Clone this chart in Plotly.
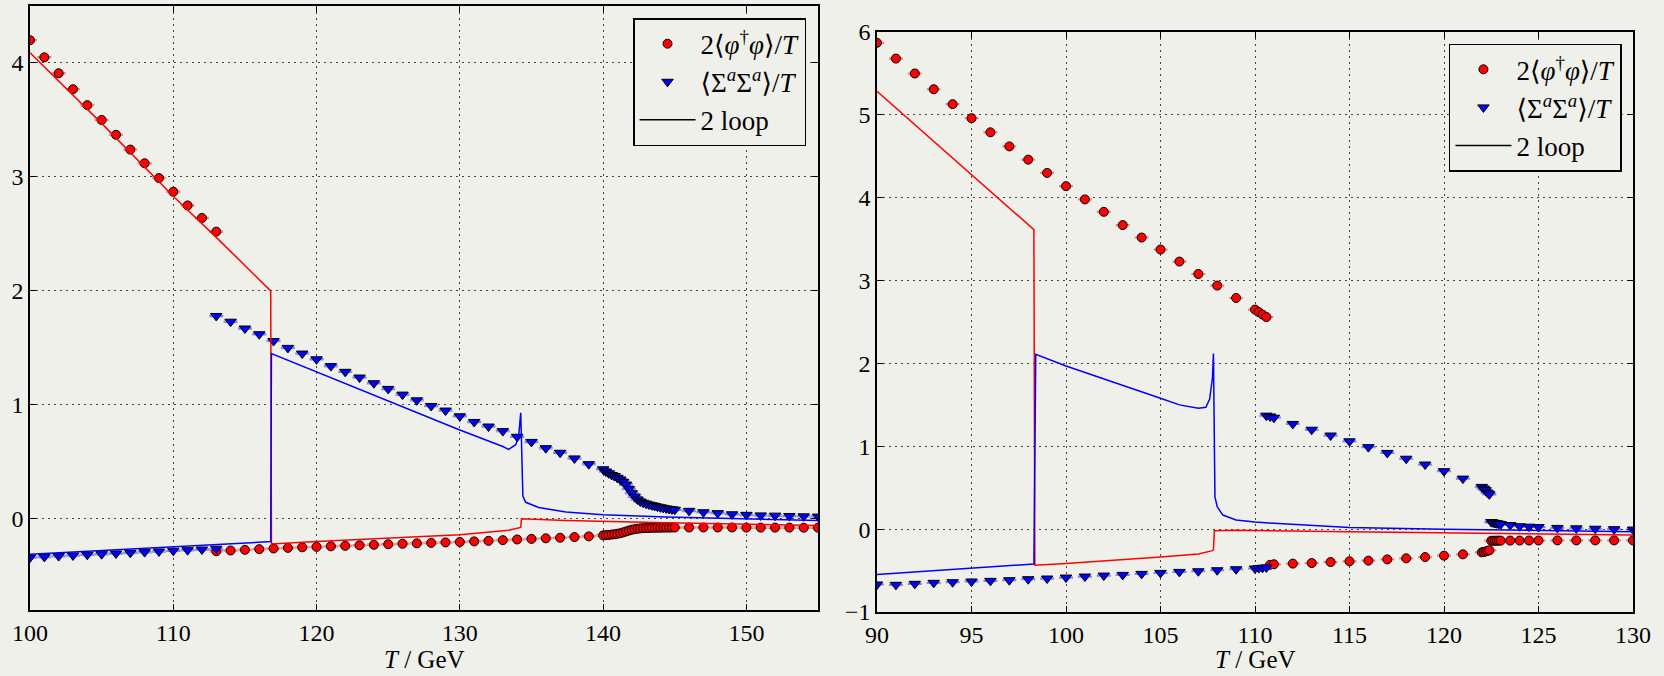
import plotly.graph_objects as go

# ---------------- Left panel data ----------------
L_phi_T = [100, 101, 102, 103, 104, 105, 106, 107, 108, 109, 110, 111, 112, 113,
           113, 114, 115, 116, 117, 118, 119, 120, 121, 122, 123, 124, 125, 126, 127, 128,
           129, 130, 131, 132, 133, 134, 135, 136, 137, 138, 139,
           140.0, 140.2, 140.4, 140.6, 140.8, 141.0, 141.2, 141.4, 141.6, 141.8, 142.0, 142.2, 142.4,
           142.6, 142.8, 143.0, 143.2, 143.4, 143.6, 143.8, 144.0, 144.2, 144.4, 144.6, 144.8, 145.0,
           146, 147, 148, 149, 150, 151, 152, 153, 154, 155]
L_phi = [4.20, 4.05, 3.91, 3.77, 3.63, 3.50, 3.37, 3.24, 3.12, 2.99, 2.87, 2.75, 2.64, 2.52,
         -0.284, -0.278, -0.272, -0.266, -0.260, -0.255, -0.250, -0.246, -0.241, -0.237, -0.232, -0.228,
         -0.223, -0.219, -0.215, -0.211, -0.207, -0.203, -0.198, -0.193, -0.187, -0.181, -0.176, -0.171,
         -0.166, -0.160, -0.154,
         -0.145, -0.143, -0.141, -0.138, -0.135, -0.131, -0.126, -0.119, -0.111, -0.103, -0.096, -0.091,
         -0.087, -0.084, -0.082, -0.081, -0.080, -0.079, -0.079, -0.078, -0.078, -0.077, -0.077, -0.077,
         -0.076, -0.076,
         -0.076, -0.076, -0.076, -0.076, -0.077, -0.077, -0.077, -0.077, -0.078, -0.078]

L_sig_T = [100, 101, 102, 103, 104, 105, 106, 107, 108, 109, 110, 111, 112, 113,
           113, 114, 115, 116, 117, 118, 119, 120, 121, 122, 123, 124, 125, 126, 127, 128,
           129, 130, 131, 132, 133, 134, 135, 136, 137, 138, 139,
           140.0, 140.2, 140.4, 140.6, 140.8, 141.0, 141.2, 141.4, 141.6, 141.8, 142.0, 142.2, 142.4,
           142.6, 142.8, 143.0, 143.2, 143.4, 143.6, 143.8, 144.0, 144.2, 144.4, 144.6, 144.8, 145.0,
           146, 147, 148, 149, 150, 151, 152, 153, 154, 155]
L_sig = [-0.340, -0.334, -0.327, -0.321, -0.315, -0.310, -0.304, -0.298, -0.292, -0.286, -0.280, -0.275,
         -0.269, -0.262,
         1.78, 1.73, 1.67, 1.62, 1.56, 1.50, 1.45, 1.40, 1.34, 1.29, 1.24, 1.19, 1.14, 1.09, 1.04, 0.99,
         0.95, 0.90, 0.85, 0.81, 0.77, 0.72, 0.675, 0.62, 0.58, 0.53, 0.48,
         0.435, 0.415, 0.400, 0.385, 0.375, 0.360, 0.345, 0.325, 0.300, 0.262, 0.225, 0.195, 0.170,
         0.152, 0.141, 0.133, 0.125, 0.119, 0.113, 0.107, 0.101, 0.096, 0.091, 0.087, 0.083, 0.080,
         0.070, 0.058, 0.050, 0.040, 0.035, 0.030, 0.028, 0.025, 0.022, 0.020]

# 2-loop curves (left)
L_loop_phi_T = [100, 105, 110, 113, 116.8, 116.85, 120, 125.8, 130, 133.4, 134.1, 134.25, 134.3,
                137.4, 144.4, 155]
L_loop_phi = [4.09, 3.47, 2.83, 2.47, 2.00, -0.22, -0.20, -0.165, -0.139, -0.10, -0.08, -0.075, 0.0,
              -0.015, -0.035, -0.058]
L_loop_sig_T = [100, 116.8, 116.85, 120, 125, 130, 133.0, 133.4, 133.9, 134.1, 134.25, 134.32, 134.4,
                134.6, 135.5, 137.4, 140, 144.4, 155]
L_loop_sig = [-0.31, -0.20, 1.45, 1.29, 1.03, 0.78, 0.635, 0.61, 0.65, 0.72, 0.93, 0.46, 0.20,
              0.145, 0.10, 0.06, 0.035, 0.015, -0.015]

# ---------------- Right panel data ----------------
R_phi_T = [90, 91, 92, 93, 94, 95, 96, 97, 98, 99, 100, 101, 102, 103, 104, 105, 106, 107, 108, 109,
           110.0, 110.2, 110.4, 110.6,
           110.8, 111, 112, 113, 114, 115, 116, 117, 118, 119, 120, 121,
           122.0, 122.1, 122.2, 122.3, 122.4,
           122.5, 122.6, 122.7, 122.8, 122.9, 123.0, 123.5, 124, 124.5, 125, 126, 127, 128, 129, 130]
R_phi = [5.87, 5.68, 5.50, 5.31, 5.13, 4.96, 4.79, 4.62, 4.46, 4.30, 4.14, 3.98, 3.83, 3.67, 3.52,
         3.375, 3.23, 3.08, 2.94, 2.79,
         2.65, 2.62, 2.59, 2.56,
         -0.430, -0.424, -0.416, -0.409, -0.397, -0.388, -0.380, -0.365, -0.352, -0.337, -0.320, -0.304,
         -0.280, -0.275, -0.270, -0.262, -0.255,
         -0.140, -0.140, -0.140, -0.139, -0.139, -0.139, -0.138, -0.138, -0.137, -0.137, -0.136, -0.136,
         -0.136, -0.136, -0.136]

R_sig_T = [90, 91, 92, 93, 94, 95, 96, 97, 98, 99, 100, 101, 102, 103, 104, 105, 106, 107, 108, 109,
           110.0, 110.2, 110.4, 110.6,
           110.6, 110.8, 111, 112, 113, 114, 115, 116, 117, 118, 119, 120, 121,
           122.0, 122.1, 122.2, 122.3, 122.4,
           122.5, 122.6, 122.7, 122.8, 122.9, 123.0, 123.5, 124, 124.5, 125, 126, 127, 128, 129, 130]
R_sig = [-0.668, -0.672, -0.660, -0.648, -0.640, -0.632, -0.624, -0.616, -0.604, -0.596, -0.584, -0.572,
         -0.560, -0.552, -0.540, -0.528, -0.516, -0.508, -0.496, -0.484,
         -0.475, -0.470, -0.466, -0.462,
         1.37, 1.36, 1.345, 1.27, 1.20, 1.13, 1.06, 0.99, 0.92, 0.85, 0.78, 0.70, 0.61,
         0.51, 0.49, 0.47, 0.44, 0.42,
         0.085, 0.080, 0.075, 0.070, 0.065, 0.060, 0.050, 0.035, 0.030, 0.025, 0.015, 0.010, 0.005,
         0.000, -0.005]

# 2-loop curves (right)
R_loop_phi_T = [90, 98.3, 98.35, 100, 105, 107, 107.7, 107.8, 107.85, 109, 115, 120, 125, 130]
R_loop_phi = [5.285, 3.615, -0.435, -0.416, -0.337, -0.300, -0.262, -0.250, -0.020, -0.013, -0.030,
              -0.045, -0.060, -0.070]
R_loop_sig_T = [90, 98.3, 98.4, 100, 105, 106, 107, 107.4, 107.6, 107.75, 107.8, 107.88, 108.0, 108.3,
                109, 110, 111, 115, 120, 130]
R_loop_sig = [-0.548, -0.420, 2.11, 1.97, 1.58, 1.50, 1.46, 1.47, 1.57, 1.83, 2.12, 0.39, 0.27, 0.17,
              0.11, 0.085, 0.07, 0.02, 0.0, -0.03]

LEG_PHI = "2⟨<i>φ</i><sup>†</sup><i>φ</i>⟩/<i>T</i>"
LEG_SIG = "⟨Σ<sup><i>a</i></sup>Σ<sup><i>a</i></sup>⟩/<i>T</i>"
X_TITLE = "<i>T</i> / GeV"

BG = "rgb(240,240,235)"
FONT = "Liberation Serif, DejaVu Serif, serif"

fig = go.Figure()


def add_panel(xa, ya, leg, phiT, phi, sigT, sig, lpT, lp, lsT, ls):
    fig.add_trace(go.Scatter(
        x=phiT, y=phi, mode="markers", name=LEG_PHI, xaxis=xa, yaxis=ya, legend=leg,
        marker=dict(symbol="circle", size=9, color="red", line=dict(color="black", width=1)),
        error_y=dict(type="constant", value=0.006, color="rgba(255,80,80,0.7)", width=7, thickness=1.2)))
    fig.add_trace(go.Scatter(
        x=sigT, y=sig, mode="markers", name=LEG_SIG, xaxis=xa, yaxis=ya, legend=leg,
        marker=dict(symbol="triangle-down", size=10, color="blue", line=dict(color="black", width=1)),
        error_y=dict(type="constant", value=0.006, color="rgba(80,80,255,0.7)", width=7, thickness=1.2)))
    fig.add_trace(go.Scatter(x=lpT, y=lp, mode="lines", showlegend=False, xaxis=xa, yaxis=ya,
                             line=dict(color="red", width=1.5)))
    fig.add_trace(go.Scatter(x=lsT, y=ls, mode="lines", showlegend=False, xaxis=xa, yaxis=ya,
                             line=dict(color="blue", width=1.5)))
    fig.add_trace(go.Scatter(x=[None], y=[None], mode="lines", name="2 loop", xaxis=xa, yaxis=ya,
                             legend=leg, line=dict(color="black", width=1.5)))


add_panel("x", "y", "legend", L_phi_T, L_phi, L_sig_T, L_sig,
          L_loop_phi_T, L_loop_phi, L_loop_sig_T, L_loop_sig)
add_panel("x2", "y2", "legend2", R_phi_T, R_phi, R_sig_T, R_sig,
          R_loop_phi_T, R_loop_phi, R_loop_sig_T, R_loop_sig)

axis_common = dict(showgrid=True, gridcolor="#444", griddash="2px,4px", gridwidth=1,
                   showline=True, linecolor="black", linewidth=1.5, mirror="ticks",
                   ticks="inside", ticklen=6, tickcolor="black", zeroline=False, automargin=False,
                   tickfont=dict(size=24, color="black", family=FONT))

legend_common = dict(xanchor="right", yanchor="top", bgcolor=BG, bordercolor="black", borderwidth=1.5,
                     font=dict(size=27, color="black", family=FONT), itemwidth=56)

fig.update_layout(
    width=1664, height=676,
    margin=dict(l=30, r=31, t=6, b=64),
    paper_bgcolor=BG, plot_bgcolor=BG,
    font=dict(family=FONT, color="black", size=24),
    xaxis=dict(domain=[0, 0.4916], range=[100, 155], tick0=100, dtick=10, anchor="y", **axis_common),
    yaxis=dict(domain=[0.0033, 1], range=[-0.8, 4.5], tick0=0, dtick=1, anchor="x", **axis_common),
    xaxis2=dict(domain=[0.5284, 1], range=[90, 130], tick0=90, dtick=5, anchor="y2", **axis_common),
    yaxis2=dict(domain=[0, 0.957], range=[-1, 6], tick0=0, dtick=1, anchor="x2", **axis_common),
    legend=dict(x=0.4841, y=0.980, **legend_common),
    legend2=dict(x=0.9931, y=0.9377, **legend_common),
    annotations=[
        dict(text=X_TITLE, xref="paper", yref="paper", x=0.2458, y=-0.104, xanchor="center",
             yanchor="bottom", showarrow=False, font=dict(size=25, color="black", family=FONT)),
        dict(text=X_TITLE, xref="paper", yref="paper", x=0.7642, y=-0.104, xanchor="center",
             yanchor="bottom", showarrow=False, font=dict(size=25, color="black", family=FONT)),
    ],
)

fig.write_html("out.html")
